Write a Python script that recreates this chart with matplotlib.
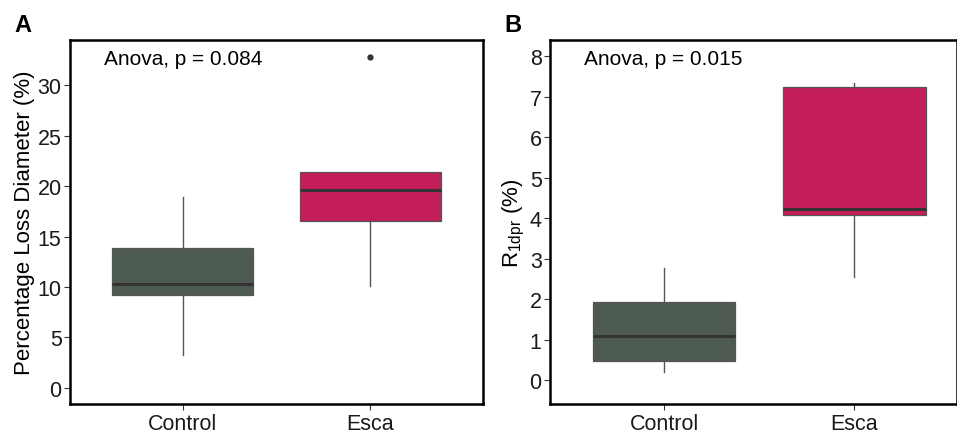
import matplotlib
matplotlib.use('Agg')
import matplotlib.pyplot as plt

plt.rcParams['font.family'] = ['Liberation Sans', 'DejaVu Sans']
plt.rcParams['mathtext.fontset'] = 'custom'
plt.rcParams['mathtext.rm'] = 'Liberation Sans'

groups = ['Control', 'Esca']
box_colors = ['#4d5a51', '#c41e5a']

# panel A: percentage loss diameter
a_q1 = [9.2, 16.6]
a_med = [10.3, 19.6]
a_q3 = [13.9, 21.4]
a_lo = [3.3, 10.1]
a_hi = [18.9, 21.4]
a_out = [[], [32.8]]

# panel B: R1dpr
b_q1 = [0.48, 4.09]
b_med = [1.09, 4.22]
b_q3 = [1.92, 7.23]
b_lo = [0.2, 2.54]
b_hi = [2.78, 7.33]
b_out = [[], []]


def make_stats(q1, med, q3, lo, hi, out):
    stats = []
    for i in range(len(groups)):
        stats.append({'q1': q1[i], 'med': med[i], 'q3': q3[i],
                      'whislo': lo[i], 'whishi': hi[i], 'fliers': out[i],
                      'label': groups[i]})
    return stats


def draw_panel(ax, stats, ylim, yticks, ylabel, ptext):
    bp = ax.bxp(stats, positions=[1, 2], widths=0.75, patch_artist=True,
                showcaps=False,
                boxprops=dict(edgecolor='#555555', linewidth=0.9),
                whiskerprops=dict(color='#555555', linewidth=1.0),
                medianprops=dict(color='#333333', linewidth=2.2),
                flierprops=dict(marker='o', markersize=3.5,
                                markerfacecolor='#333333',
                                markeredgecolor='#333333'))
    for patch, c in zip(bp['boxes'], box_colors):
        patch.set_facecolor(c)
    ax.set_ylim(ylim)
    ax.set_xlim(0.4, 2.6)
    ax.set_yticks(yticks)
    ax.set_xticks([1, 2])
    ax.set_xticklabels(groups)
    ax.tick_params(labelsize=15.5, length=4, width=0.8, color='#333333',
                   labelcolor='#1a1a1a')
    ax.tick_params(axis='x', pad=2.5)
    ax.tick_params(axis='y', pad=2)
    for s in ax.spines.values():
        s.set_linewidth(1.8)
        s.set_color('black')
    ax.set_ylabel(ylabel, fontsize=16, labelpad=2)
    ax.text(0.083, 0.95, ptext, transform=ax.transAxes, fontsize=15,
            ha='left', va='center')


fig = plt.figure(figsize=(9.57, 4.31), dpi=100)
ax1 = fig.add_axes([0.0731, 0.0603, 0.4316, 0.8445])
ax2 = fig.add_axes([0.5747, 0.0603, 0.4253, 0.8445])

draw_panel(ax1, make_stats(a_q1, a_med, a_q3, a_lo, a_hi, a_out),
           (-1.6, 34.5), [0, 5, 10, 15, 20, 25, 30],
           'Percentage Loss Diameter (%)', 'Anova, p = 0.084')
draw_panel(ax2, make_stats(b_q1, b_med, b_q3, b_lo, b_hi, b_out),
           (-0.59, 8.4), list(range(0, 9)),
           r'$\mathregular{R_{1dpr}}$ (%)', 'Anova, p = 0.015')
ax2.set_xlim(0.4, 2.54)

fig.text(0.015, 0.94, 'A', fontsize=17, fontweight='bold', va='center')
fig.text(0.527, 0.94, 'B', fontsize=17, fontweight='bold', va='center')

fig.savefig('out.png', dpi=100)
